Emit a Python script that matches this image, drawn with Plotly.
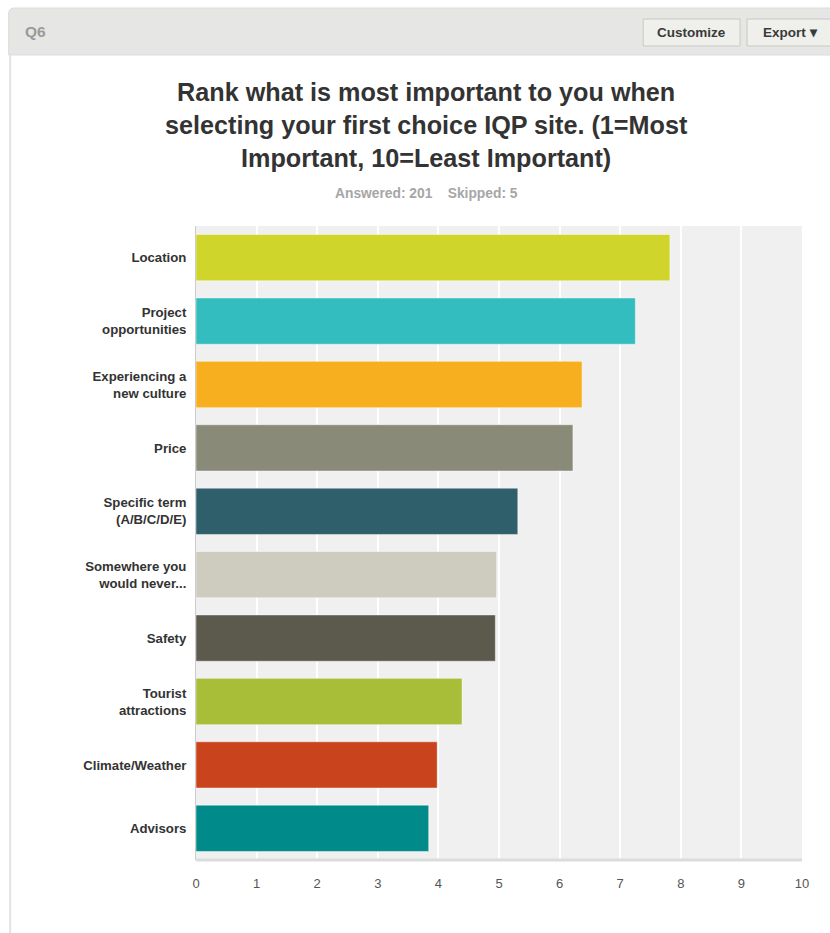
import plotly.graph_objects as go

# Survey results: average ranking score per factor
categories = [
    "Location",
    "Project<br>opportunities",
    "Experiencing a<br>new culture",
    "Price",
    "Specific term<br>(A/B/C/D/E)",
    "Somewhere you<br>would never...",
    "Safety",
    "Tourist<br>attractions",
    "Climate/Weather",
    "Advisors",
]
scores = [7.82, 7.25, 6.37, 6.22, 5.31, 4.96, 4.94, 4.39, 3.98, 3.84]
bar_colors = [
    "#cfd52a", "#33bdbf", "#f7ae1f", "#898a78", "#2e5f6b",
    "#ceccbf", "#5b5a4c", "#a8bd38", "#c9441d", "#008a8a",
]
x_ticks = list(range(0, 11))

W, H = 830, 933
L, R, T, B = 195.5, 802, 226, 860


def px(x):
    return (x - L) / (R - L)


def py(y):
    return (B - y) / (B - T)


fig = go.Figure(
    go.Bar(
        x=scores,
        y=list(range(len(categories))),
        orientation="h",
        marker=dict(color=bar_colors, line=dict(color="rgba(255,255,255,0.45)", width=1)),
        hoverinfo="x",
    )
)

shapes = []
# panel header strip with rounded top-left corner
r = 6
shapes.append(dict(
    type="path", xref="paper", yref="paper", layer="below",
    path=(f"M {px(8)} {py(55)} L {px(8)} {py(8 + r)} "
          f"Q {px(8)} {py(8)} {px(8 + r)} {py(8)} L {px(834)} {py(8)} "
          f"L {px(834)} {py(55)} Z"),
    fillcolor="#e6e6e5", line=dict(color="#dcdcdc", width=1),
))
# panel left border
shapes.append(dict(type="line", xref="paper", yref="paper", layer="below",
                   x0=px(9.5), x1=px(9.5), y0=py(55), y1=py(940),
                   line=dict(color="#e2e2e2", width=2)))
# header buttons
for x0, x1 in [(643, 740), (747, 840)]:
    shapes.append(dict(type="rect", xref="paper", yref="paper",
                       x0=px(x0), x1=px(x1), y0=py(46), y1=py(19),
                       fillcolor="#efefeb", line=dict(color="#c8c8c4", width=1)))
# bottom axis line
shapes.append(dict(type="line", xref="paper", yref="paper",
                   x0=0, x1=1, y0=0, y1=0,
                   line=dict(color="#dcdcdc", width=3)))

annotations = [
    dict(text="<b>Q6</b>", x=px(22), y=py(32), xref="paper", yref="paper",
         xanchor="left", yanchor="middle", showarrow=False,
         font=dict(size=15.5, color="#9a9a9a", family="Liberation Sans")),
    dict(text="<b>Customize</b>", x=px(691), y=py(32.5), xref="paper", yref="paper",
         xanchor="center", yanchor="middle", showarrow=False,
         font=dict(size=13.5, color="#3a3a3a", family="Liberation Sans Narrow, Liberation Sans")),
    dict(text="<b>Export ▾</b>", x=px(790), y=py(32.5), xref="paper", yref="paper",
         xanchor="center", yanchor="middle", showarrow=False,
         font=dict(size=13.5, color="#3a3a3a", family="Liberation Sans Narrow, Liberation Sans")),
    dict(text=("<b>Rank what is most important to you when<br>"
               "selecting your first choice IQP site. (1=Most<br>"
               "Important, 10=Least Important)</b>"),
         x=px(426), y=py(125), xref="paper", yref="paper",
         xanchor="center", yanchor="middle", showarrow=False, align="center",
         font=dict(size=25.2, color="#333333", family="Liberation Sans")),
    dict(text="<b>Answered: 201&nbsp;&nbsp;&nbsp;&nbsp;Skipped: 5</b>",
         x=px(426), y=py(193), xref="paper", yref="paper",
         xanchor="center", yanchor="middle", showarrow=False,
         font=dict(size=13.8, color="#a6a6a6", family="Liberation Sans")),
]

fig.update_layout(
    width=W, height=H,
    margin=dict(l=L, r=W - R, t=T, b=H - B, pad=0),
    paper_bgcolor="white",
    plot_bgcolor="#f0f0f0",
    bargap=0.27,
    showlegend=False,
    shapes=shapes,
    annotations=annotations,
    xaxis=dict(
        range=[0, 10], tickvals=x_ticks, ticktext=[str(v) for v in x_ticks],
        showgrid=True, gridcolor="white", gridwidth=2, zeroline=False,
        ticks="outside", ticklen=11, tickcolor="rgba(0,0,0,0)",
        tickfont=dict(size=13, color="#555555", family="Liberation Sans Narrow, Liberation Sans"),
        fixedrange=True,
    ),
    yaxis=dict(
        tickvals=list(range(len(categories))),
        ticktext=[f"<b>{c}</b>" for c in categories],
        range=[len(categories) - 0.5, -0.5],
        showgrid=False, zeroline=False,
        showline=True, linecolor="#cccccc", linewidth=1,
        ticks="outside", ticklen=6, tickcolor="rgba(0,0,0,0)",
        tickfont=dict(size=13.2, color="#333333", family="Liberation Sans"),
        fixedrange=True,
    ),
)

fig.write_html("out.html", config={"displayModeBar": False})
